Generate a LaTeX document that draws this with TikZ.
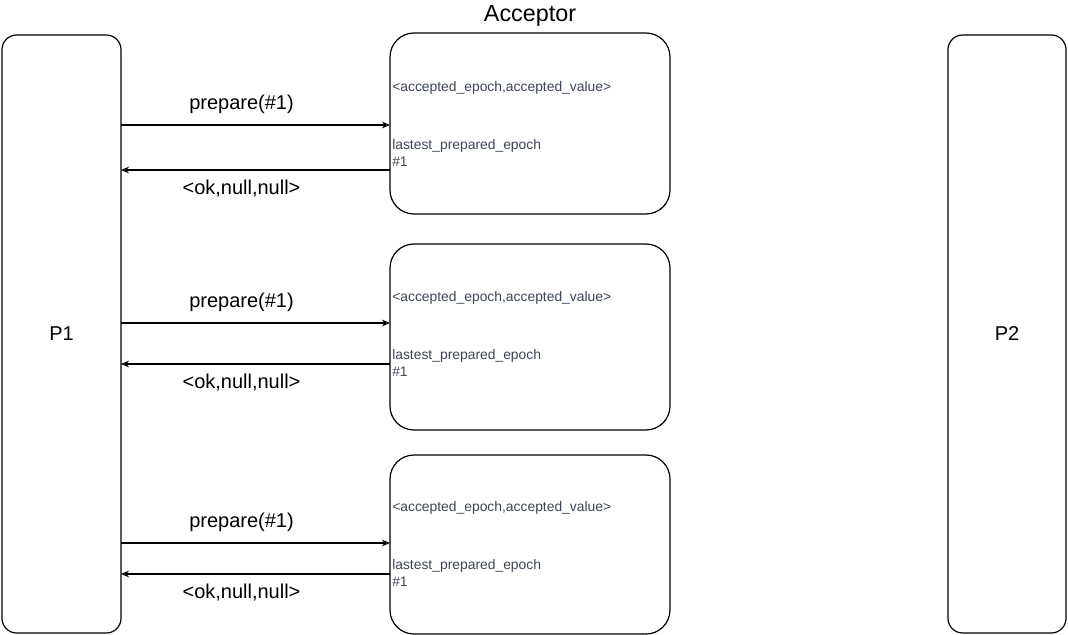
\documentclass[tikz,border=0pt]{standalone}
\usepackage{fontspec}
\setmainfont{Liberation Sans}
\usetikzlibrary{arrows.meta}
\usepackage{xcolor}
\definecolor{slate}{RGB}{60,70,85}

\begin{document}
\begin{tikzpicture}[x=0.75pt,y=-0.75pt,
proc/.style={draw,line width=0.9pt,rounded corners=11pt,inner sep=0pt,outer sep=0pt,font=\fontsize{15}{18}\selectfont},
acc/.style={draw,line width=0.9pt,rounded corners=18pt,inner sep=0pt,outer sep=0pt,minimum width=210pt},
state/.style={anchor=west,inner sep=0pt,text=slate,font=\fontsize{10.4}{12}\selectfont},
msg/.style={line width=0.8pt,-{Stealth[open,length=6pt,width=5pt]}},
lbl/.style={font=\fontsize{15}{18}\selectfont,xshift=-10.5pt}]
\useasboundingbox (0,0) rectangle (1068,635);

\node (P1) [proc,minimum width=89.25pt,minimum height=448.5pt] at (61.5,334) {P1};
\node (P2) [proc,minimum width=88.5pt,minimum height=448.5pt] at (1007,334) {P2};

\node (A1) [acc,minimum height=135.75pt] at (530,123.5) {};
\node (A2) [acc,minimum height=139.5pt] at (530,337) {};
\node (A3) [acc,minimum height=134.25pt] at (530,544.5) {};
\node (title) [font=\fontsize{17.5}{20}\selectfont] at (530,16) {Acceptor};

% state inside each acceptor
\node (s1a) [state] at (392,88) {<accepted\_epoch,accepted\_value>};
\node (s1b) [state] at (392,146) {lastest\_prepared\_epoch};
\node (s1c) [state] at (392,162) {\#1};
\node (s2a) [state] at (392,298) {<accepted\_epoch,accepted\_value>};
\node (s2b) [state] at (392,356) {lastest\_prepared\_epoch};
\node (s2c) [state] at (392,372) {\#1};
\node (s3a) [state] at (392,508) {<accepted\_epoch,accepted\_value>};
\node (s3b) [state] at (392,566) {lastest\_prepared\_epoch};
\node (s3c) [state] at (392,582) {\#1};

% message ends on the acceptors
\coordinate (q1) at (390,125);
\coordinate (r1) at (390,170);
\coordinate (q2) at (390,323);
\coordinate (r2) at (390,364);
\coordinate (q3) at (390,543);
\coordinate (r3) at (390,574);

\draw[msg] (P1.east |- q1) -- (q1) node[lbl,midway,above=5pt] {prepare(\#1)};
\draw[msg] (r1) -- (P1.east |- r1) node[lbl,midway,below=4pt] {<ok,null,null>};
\draw[msg] (P1.east |- q2) -- (q2) node[lbl,midway,above=5pt] {prepare(\#1)};
\draw[msg] (r2) -- (P1.east |- r2) node[lbl,midway,below=4pt] {<ok,null,null>};
\draw[msg] (P1.east |- q3) -- (q3) node[lbl,midway,above=5pt] {prepare(\#1)};
\draw[msg] (r3) -- (P1.east |- r3) node[lbl,midway,below=4pt] {<ok,null,null>};
\end{tikzpicture}
\end{document}
